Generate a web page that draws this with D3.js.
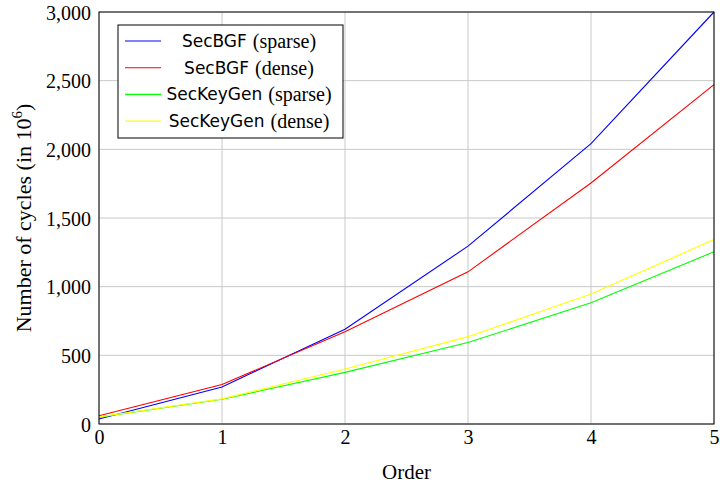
<!DOCTYPE html>
<html>
<head>
<meta charset="utf-8">
<script src="https://cdn.jsdelivr.net/npm/d3@7"></script>
<style>
  body { margin: 0; background: #fff; }
  .tick text { font-family: "Liberation Serif", serif; font-size: 20px; fill: #000; }
  .serif { font-family: "Liberation Serif", serif; font-size: 20px; }
  .sans { font-family: "DejaVu Sans", sans-serif; font-size: 17px; }
</style>
</head>
<body>
<div id="grafica"></div>
<script>
// datos
const ordenes = [0, 1, 2, 3, 4, 5];
const bgfSparse = [36, 270, 690, 1295, 2041, 3000];
const bgfDense = [60, 288, 672, 1108, 1755, 2471];
const keygenSparse = [50, 180, 376, 593, 883, 1254];
const keygenDense = [52, 183, 400, 636, 946, 1343];
const xTicks = [0, 1, 2, 3, 4, 5];
const yTicks = [0, 500, 1000, 1500, 2000, 2500, 3000];

const series = [
  { sans: "SecBGF", serif: "(sparse)", valores: bgfSparse, color: "#0000ff" },
  { sans: "SecBGF", serif: "(dense)", valores: bgfDense, color: "#ff0000" },
  { sans: "SecKeyGen", serif: "(sparse)", valores: keygenSparse, color: "#00ff00" },
  { sans: "SecKeyGen", serif: "(dense)", valores: keygenDense, color: "#ffff00" }
];

const width = 720, height = 484;
const margin = { top: 12, right: 6, bottom: 60, left: 99 };

let svg = d3.select("#grafica").append("svg")
    .attr("width", width)
    .attr("height", height);

const x = d3.scaleLinear().domain([0, 5]).range([margin.left, width - margin.right]);
const y = d3.scaleLinear().domain([0, 3000]).range([height - margin.bottom, margin.top]);

// rejilla
svg.append("g")
    .selectAll("line.gx")
    .data(xTicks)
    .join("line")
    .attr("x1", d => x(d)).attr("x2", d => x(d))
    .attr("y1", y(0)).attr("y2", y(3000))
    .attr("stroke", "#c8c8c8").attr("stroke-width", 1);

svg.append("g")
    .selectAll("line.gy")
    .data(yTicks)
    .join("line")
    .attr("x1", x(0)).attr("x2", x(5))
    .attr("y1", d => y(d)).attr("y2", d => y(d))
    .attr("stroke", "#c8c8c8").attr("stroke-width", 1);

// ejes
const fmt = d3.format(",");
svg.append("g")
    .attr("transform", `translate(0,${y(0)})`)
    .call(d3.axisBottom(x).tickValues(xTicks).tickFormat(d3.format("d")).tickSize(0).tickPadding(6))
    .call(g => g.select(".domain").remove());

svg.append("g")
    .attr("transform", `translate(${x(0)},0)`)
    .call(d3.axisLeft(y).tickValues(yTicks).tickFormat(fmt).tickSize(0).tickPadding(8))
    .call(g => g.select(".domain").remove())
    .selectAll("text").attr("dy", "0.35em");

// lineas
const linea = d3.line().x((d, i) => x(ordenes[i])).y(d => y(d));

svg.append("g")
    .selectAll("path")
    .data(series)
    .join("path")
    .attr("d", d => linea(d.valores))
    .attr("fill", "none")
    .attr("stroke", d => d.color)
    .attr("stroke-width", 1.1);

// marco
svg.append("rect")
    .attr("x", x(0)).attr("y", y(3000))
    .attr("width", x(5) - x(0)).attr("height", y(0) - y(3000))
    .attr("fill", "none").attr("stroke", "#000").attr("stroke-width", 1);

// titulos
svg.append("text")
    .attr("class", "serif")
    .attr("x", (x(0) + x(5)) / 2)
    .attr("y", 479)
    .attr("text-anchor", "middle")
    .style("font-size", "21px")
    .text("Order");

let ytit = svg.append("text")
    .attr("class", "serif")
    .attr("transform", `translate(31,${(y(0) + y(3000)) / 2}) rotate(-90)`)
    .attr("text-anchor", "middle")
    .style("font-size", "22px");
ytit.append("tspan").text("Number of cycles (in 10");
ytit.append("tspan").attr("dy", "-9").style("font-size", "15px").text("6");
ytit.append("tspan").attr("dy", "9").text(")");

// leyenda
let leyenda = svg.append("g");
leyenda.append("rect")
    .attr("x", 118).attr("y", 25)
    .attr("width", 225).attr("height", 113)
    .attr("fill", "#fff").attr("stroke", "#000").attr("stroke-width", 1);

let filas = leyenda.selectAll("g.fila")
    .data(series)
    .join("g")
    .attr("class", "fila")
    .attr("transform", (d, i) => `translate(0,${41 + i * 26.7})`);

filas.append("line")
    .attr("x1", 125).attr("x2", 161)
    .attr("y1", 0).attr("y2", 0)
    .attr("stroke", d => d.color).attr("stroke-width", 1.1);

// dos textos separados, centrados juntos en x=249
filas.each(function(d) {
  let g = d3.select(this);
  let t1 = g.append("text").attr("class", "sans").attr("dy", "0.35em").text(d.sans);
  let t2 = g.append("text").attr("class", "serif").attr("dy", "0.35em").text(d.serif);
  let w1 = t1.node().getComputedTextLength();
  let w2 = t2.node().getComputedTextLength();
  let gap = 6;
  let x0 = 249 - (w1 + gap + w2) / 2;
  t1.attr("x", x0);
  t2.attr("x", x0 + w1 + gap);
});
</script>
</body>
</html>
